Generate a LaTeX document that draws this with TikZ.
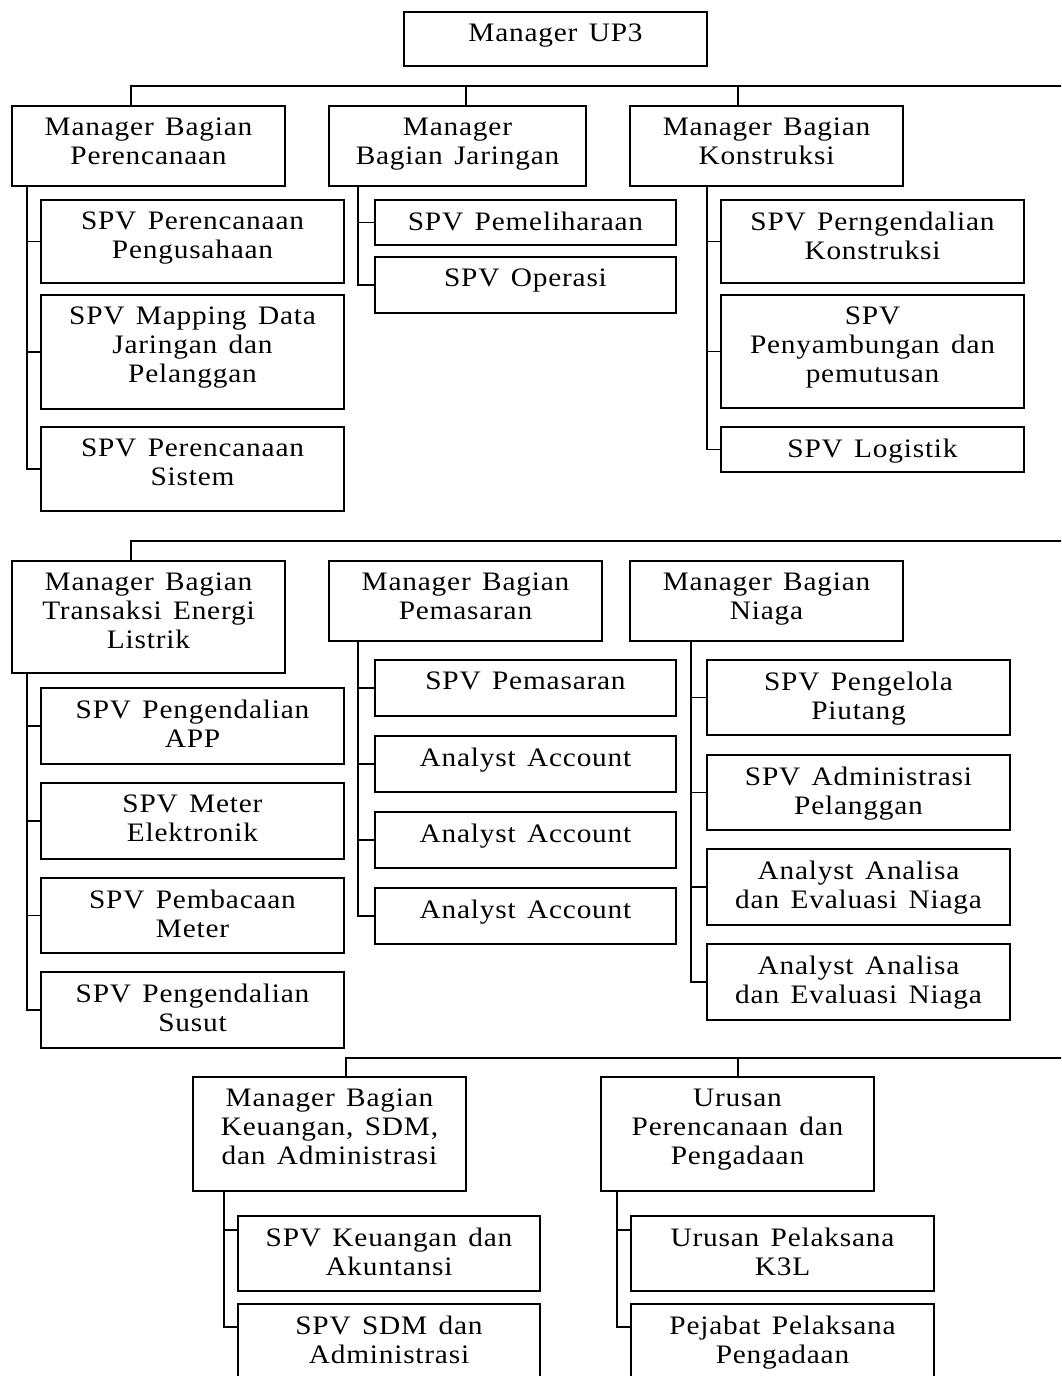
\documentclass[tikz,border=0pt]{standalone}
\usepackage{fontspec}
\setmainfont{Liberation Serif}[FakeStretch=1.1, LetterSpace=3, WordSpace=1.4]
\tikzset{
  box/.style={draw, line width=1.2pt, inner sep=0pt, outer sep=0pt, anchor=north west},
  lbl/.style={anchor=north, inner sep=0pt, align=center, yshift=-9pt,
    font=\fontsize{20}{21.75}\selectfont},
  conn/.style={line width=1.1pt, line cap=rect}
}
\newcommand\bx[6]{%
  \node[box, minimum width={(#4-#2)*0.75pt}, minimum height={(#5-#3)*0.75pt}] (#1) at (#2,#3) {};
  \node[lbl] (#1-t) at (#1.north) {#6};
}
\begin{document}
\begin{tikzpicture}[x=0.75pt,y=-0.75pt]
\useasboundingbox (0,0) rectangle (1061,1376);
\clip (0,0) rectangle (1061,1376);
\fill[white] (0,0) rectangle (1061,1376);

% ---- top
\bx{up3}{404}{12}{707}{66}{Manager UP3}

% ---- row 1 managers
\bx{mA}{12}{106}{285}{186}{Manager Bagian\\Perencanaan}
\bx{mB}{329}{106}{586}{186}{Manager\\Bagian Jaringan}
\bx{mC}{630}{106}{903}{186}{Manager Bagian\\Konstruksi}

\bx{a1}{41}{200}{344}{283}{SPV Perencanaan\\Pengusahaan}
\bx{a2}{41}{295}{344}{409}{SPV Mapping Data\\Jaringan dan\\Pelanggan}
\bx{a3}{41}{427}{344}{511}{SPV Perencanaan\\Sistem}

\bx{b1}{375}{200}{676}{245}{SPV Pemeliharaan}
\bx{b2}{375}{257}{676}{313}{SPV Operasi}

\bx{c1}{721}{200}{1024}{283}{SPV Perngendalian\\Konstruksi}
\bx{c2}{721}{295}{1024}{408}{SPV\\Penyambungan dan\\pemutusan}
\bx{c3}{721}{427}{1024}{472}{SPV Logistik}

% ---- row 2 managers
\bx{mD}{12}{561}{285}{673}{Manager Bagian\\Transaksi Energi\\Listrik}
\bx{mE}{329}{561}{602}{641}{Manager Bagian\\Pemasaran}
\bx{mF}{630}{561}{903}{641}{Manager Bagian\\Niaga}

\bx{d1}{41}{688}{344}{764}{SPV Pengendalian\\APP}
\bx{d2}{41}{783}{344}{859}{SPV Meter\\Elektronik}
\bx{d3}{41}{878}{344}{953}{SPV Pembacaan\\Meter}
\bx{d4}{41}{972}{344}{1048}{SPV Pengendalian\\Susut}

\bx{e1}{375}{660}{676}{716}{SPV Pemasaran}
\bx{e2}{375}{736}{676}{792}{Analyst Account}
\bx{e3}{375}{812}{676}{868}{Analyst Account}
\bx{e4}{375}{888}{676}{944}{Analyst Account}

\bx{f1}{707}{660}{1010}{735}{SPV Pengelola\\Piutang}
\bx{f2}{707}{755}{1010}{830}{SPV Administrasi\\Pelanggan}
\bx{f3}{707}{849}{1010}{925}{Analyst Analisa\\dan Evaluasi Niaga}
\bx{f4}{707}{944}{1010}{1020}{Analyst Analisa\\dan Evaluasi Niaga}

% ---- row 3 managers
\bx{mG}{193}{1077}{466}{1191}{Manager Bagian\\Keuangan, SDM,\\dan Administrasi}
\bx{mH}{601}{1077}{874}{1191}{Urusan\\Perencanaan dan\\Pengadaan}

\bx{g1}{238}{1216}{540}{1291}{SPV Keuangan dan\\Akuntansi}
\bx{g2}{238}{1304}{540}{1390}{SPV SDM dan\\Administrasi}
\bx{h1}{631}{1216}{934}{1291}{Urusan Pelaksana\\K3L}
\bx{h2}{631}{1304}{934}{1390}{Pejabat Pelaksana\\Pengadaan}

% ---- buses
\coordinate (bus1) at (1061,86);
\coordinate (bus2) at (1061,541);
\coordinate (bus3) at (1061,1058);
\coordinate (tA) at ([xshift=119*0.75pt]mA.north west);
\coordinate (tB) at ([xshift=137*0.75pt]mB.north west);
\coordinate (tC) at ([xshift=108*0.75pt]mC.north west);
\coordinate (tD) at ([xshift=119*0.75pt]mD.north west);
\coordinate (tG) at ([xshift=153*0.75pt]mG.north west);
\coordinate (tH) at ([xshift=137*0.75pt]mH.north west);
\draw[conn] (bus1) -| (tA);
\draw[conn] (bus1 -| tB) -- (tB);
\draw[conn] (bus1 -| tC) -- (tC);
\draw[conn] (bus2) -| (tD);
\draw[conn] (bus3) -| (tG);
\draw[conn] (bus3 -| tH) -- (tH);

% ---- spines
\coordinate (sA) at ([xshift=15*0.75pt]mA.south west);
\coordinate (sB) at ([xshift=29*0.75pt]mB.south west);
\coordinate (sC) at ([xshift=77*0.75pt]mC.south west);
\coordinate (sD) at ([xshift=15*0.75pt]mD.south west);
\coordinate (sE) at ([xshift=29*0.75pt]mE.south west);
\coordinate (sF) at ([xshift=61*0.75pt]mF.south west);
\coordinate (sG) at ([xshift=31*0.75pt]mG.south west);
\coordinate (sH) at ([xshift=16*0.75pt]mH.south west);
\foreach \c in {a1,a2,a3} \draw[conn] (sA) |- (\c.west);
\foreach \c in {b1,b2} \draw[conn] (sB) |- (\c.west);
\foreach \c in {c1,c2,c3} \draw[conn] (sC) |- (\c.west);
\foreach \c in {d1,d2,d3,d4} \draw[conn] (sD) |- (\c.west);
\foreach \c in {e1,e2,e3,e4} \draw[conn] (sE) |- (\c.west);
\foreach \c in {f1,f2,f3,f4} \draw[conn] (sF) |- (\c.west);
\draw[conn] (sG) |- ([yshift=-14*0.75pt]g1.north west);
\draw[conn] (sG) |- ([yshift=-23*0.75pt]g2.north west);
\draw[conn] (sH) |- ([yshift=-14*0.75pt]h1.north west);
\draw[conn] (sH) |- ([yshift=-23*0.75pt]h2.north west);
\end{tikzpicture}
\end{document}
